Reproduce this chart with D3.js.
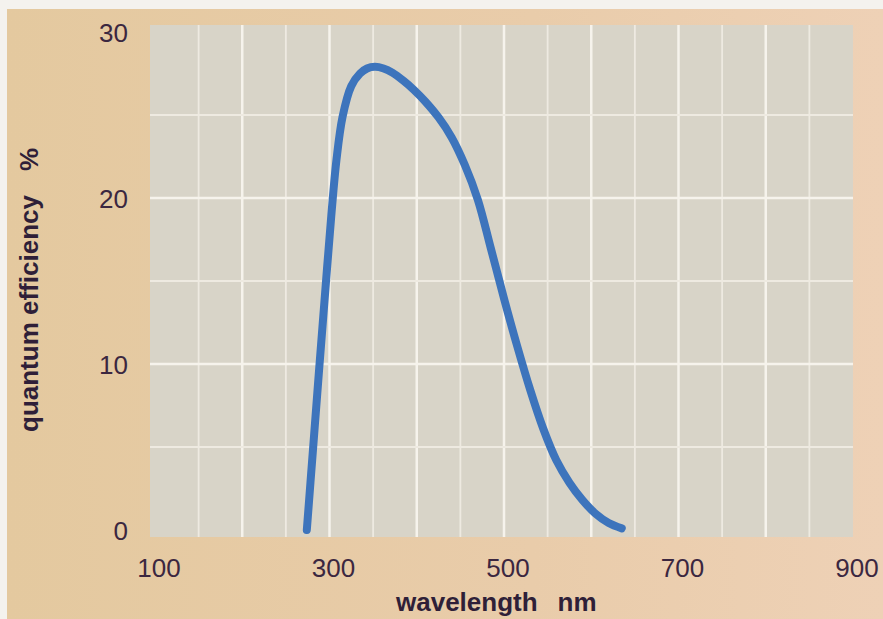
<!DOCTYPE html>
<html lang="en">
<head>
<meta charset="UTF-8">
<script src="https://d3js.org/d3.v7.min.js"></script>
<style>
  body { margin: 0; background: #f4f2ee; }
  text { font-family: "Liberation Sans", Arial, sans-serif; }
</style>
</head>
<body>
<svg width="883" height="619"></svg>
<script>
// values
var wavelength = [274, 281, 288, 295, 302, 308, 315, 325, 335, 343, 352, 362, 372, 385, 397, 410, 425, 440, 455, 470, 485, 500, 515, 530, 545, 560, 575, 590, 605, 620, 635];
var efficiency = [0, 4.8, 9.6, 14.3, 18.9, 22.3, 24.9, 26.75, 27.5, 27.8, 27.9, 27.8, 27.55, 27.05, 26.5, 25.8, 24.85, 23.65, 22.0, 19.9, 16.95, 13.95, 11.1, 8.45, 6.1, 4.2, 2.85, 1.8, 0.98, 0.42, 0.1];
var xTicks = [100, 300, 500, 700, 900];
var yTicks = [0, 10, 20, 30];
var xGrid = [150, 200, 250, 300, 350, 400, 450, 500, 550, 600, 650, 700, 750, 800, 850];
var yGrid = [5, 10, 15, 20, 25];

var svg = d3.select("svg");
var x = d3.scaleLinear().domain([100, 900]).range([155, 853]);
var y = d3.scaleLinear().domain([0, 30]).range([530, 32]);

// paper background, tan fading to peach
var grad = svg.append("defs").append("linearGradient").attr("id", "paper");
grad.append("stop").attr("offset", "0%").attr("stop-color", "#e4c99f");
grad.append("stop").attr("offset", "60%").attr("stop-color", "#e9ccaa");
grad.append("stop").attr("offset", "100%").attr("stop-color", "#eed1b6");
svg.append("rect").attr("x", 7).attr("y", 9).attr("width", 876).attr("height", 610)
  .attr("fill", "url(#paper)");

// plot area
svg.append("rect")
  .attr("x", x(100) - 5).attr("y", y(30) - 7)
  .attr("width", x(900) - x(100) + 5).attr("height", y(0) - y(30) + 14)
  .attr("fill", "#d8d4c8");

var grid = svg.append("g");
grid.selectAll(".vg").data(xGrid).enter().append("line")
  .attr("x1", d => x(d)).attr("x2", d => x(d))
  .attr("y1", y(30) - 7).attr("y2", y(0) + 7)
  .attr("stroke", d => d % 100 == 0 ? "#f6f3ec" : "#eeeae1")
  .attr("stroke-width", d => d % 100 == 0 ? 2.5 : 1.8);
grid.selectAll(".hg").data(yGrid).enter().append("line")
  .attr("x1", x(100) - 5).attr("x2", x(900))
  .attr("y1", d => y(d)).attr("y2", d => y(d))
  .attr("stroke", d => d % 10 == 0 ? "#f6f3ec" : "#eeeae1")
  .attr("stroke-width", d => d % 10 == 0 ? 2.5 : 1.8);

// tick labels
svg.selectAll(".xt").data(xTicks).enter().append("text")
  .attr("x", d => x(d) + 4).attr("y", 577)
  .attr("text-anchor", "middle").attr("font-size", 26).attr("fill", "#3b2740")
  .text(d => d);
svg.selectAll(".yt").data(yTicks).enter().append("text")
  .attr("x", 128).attr("y", d => y(d) + 10)
  .attr("text-anchor", "end").attr("font-size", 26).attr("fill", "#3b2740")
  .text(d => d);

// axis titles
svg.append("text").attr("x", 396).attr("y", 611)
  .attr("font-size", 26).attr("font-weight", "bold").attr("fill", "#2f1f38")
  .text("wavelength").append("tspan").attr("dx", 20).text("nm");
svg.append("text").attr("transform", "translate(38,432) rotate(-90)")
  .attr("font-size", 26).attr("font-weight", "bold").attr("fill", "#2f1f38")
  .text("quantum efficiency").append("tspan").attr("dx", 24).text("%");

// efficiency curve
var line = d3.line()
  .x((d, i) => x(wavelength[i]))
  .y(d => y(d))
  .curve(d3.curveCatmullRom.alpha(0.5));
svg.append("path").datum(efficiency)
  .attr("d", line)
  .attr("fill", "none").attr("stroke", "#3d74bc")
  .attr("stroke-width", 8).attr("stroke-linecap", "round");
</script>
</body>
</html>
